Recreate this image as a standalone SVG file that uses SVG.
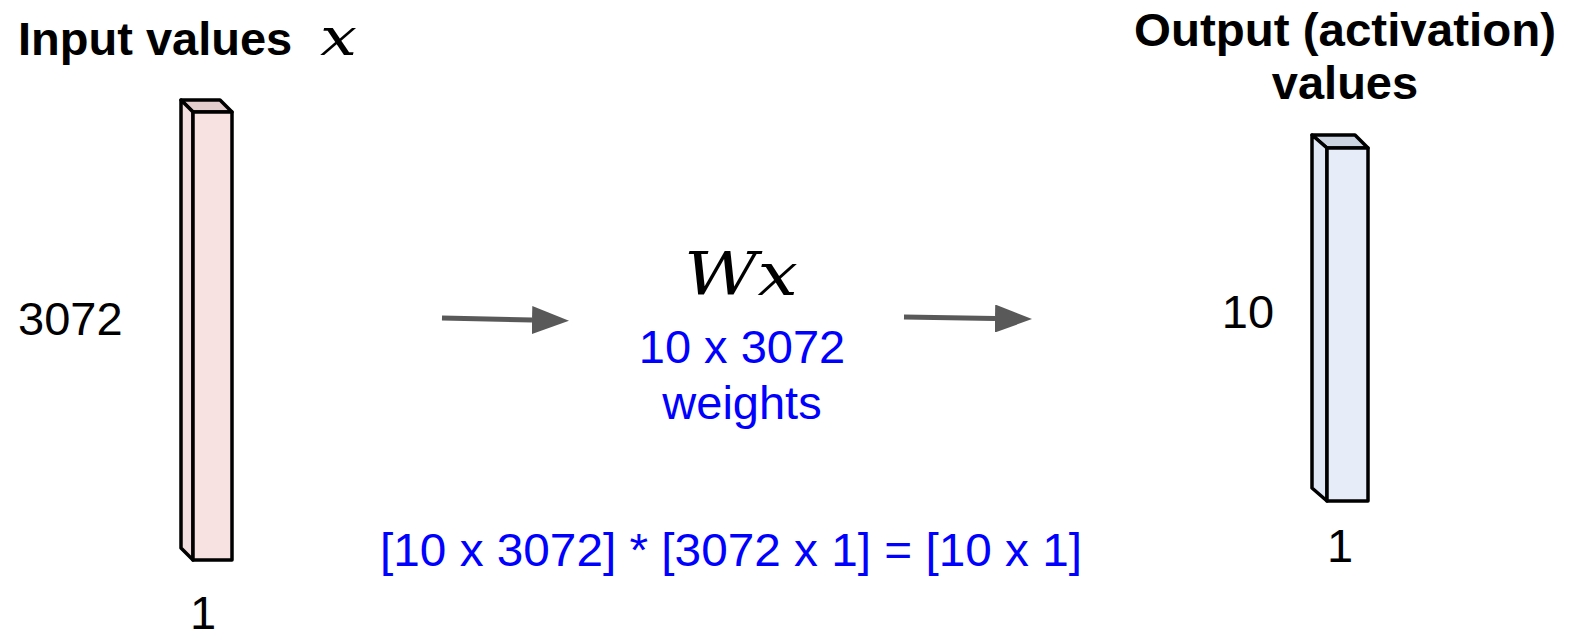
<svg xmlns="http://www.w3.org/2000/svg" width="1572" height="637" viewBox="0 0 1572 637">
<style>
.lbl{font-family:"Liberation Sans",Arial,sans-serif;font-size:47px;fill:#000}
.bold{font-weight:bold}
.blue{fill:#0000ff}
.math{font-family:"DejaVu Serif","Liberation Serif",serif;font-style:italic;fill:#000}
.edge{stroke:#000;stroke-width:3.5;stroke-linejoin:round}
.arrow{stroke:#595959;stroke-width:5;fill:none}
</style>
<defs>
<marker id="ah" viewBox="0 0 37 28" refX="0" refY="14" markerWidth="37" markerHeight="28" markerUnits="userSpaceOnUse" orient="auto">
<path d="M0,0 L37,14 L0,28 Z" fill="#595959"/>
</marker>
</defs>
<rect width="1572" height="637" fill="#fff"/>
<g id="input-label">
<text class="lbl bold" x="18" y="55">Input values</text>
<text class="math" x="320" y="55" font-size="52" textLength="37" lengthAdjust="spacingAndGlyphs">x</text>
</g>
<g id="input-vector">
<polygon class="edge" points="181,100 220,100 232,112 193,112" fill="#e2cccc"/>
<polygon class="edge" points="181,100 193,112 193,560 181,548" fill="#f2dede"/>
<rect class="edge" x="193" y="112" width="39" height="448" fill="#f7e1e1"/>
<text class="lbl" x="18" y="335">3072</text>
<text class="lbl" x="203" y="629" text-anchor="middle">1</text>
</g>
<g id="weights">
<text class="math" x="684" y="295" font-size="60" textLength="114" lengthAdjust="spacingAndGlyphs">Wx</text>
<text class="lbl blue" x="742" y="363" text-anchor="middle">10 x 3072</text>
<text class="lbl blue" x="742" y="419" text-anchor="middle">weights</text>
</g>
<g id="equation">
<text class="lbl blue" x="731" y="566" text-anchor="middle" textLength="702" lengthAdjust="spacingAndGlyphs">[10 x 3072] * [3072 x 1] = [10 x 1]</text>
</g>
<g id="output-label">
<text class="lbl bold" x="1345" y="46" text-anchor="middle" textLength="422" lengthAdjust="spacingAndGlyphs">Output (activation)</text>
<text class="lbl bold" x="1345" y="99" text-anchor="middle">values</text>
</g>
<g id="output-vector">
<polygon class="edge" points="1312,135 1355,135 1368,148 1327,148" fill="#cbd4e0"/>
<polygon class="edge" points="1312,135 1327,148 1327,501 1312,488" fill="#e0e8f5"/>
<rect class="edge" x="1327" y="148" width="41" height="353" fill="#e6edf9"/>
<text class="lbl" x="1248" y="328" text-anchor="middle">10</text>
<text class="lbl" x="1340" y="562" text-anchor="middle">1</text>
</g>
<g id="connectors">
<path class="arrow" d="M442,318 L532,320" marker-end="url(#ah)"/>
<path class="arrow" d="M904,317 L995,318.5" marker-end="url(#ah)"/>
</g>
</svg>
